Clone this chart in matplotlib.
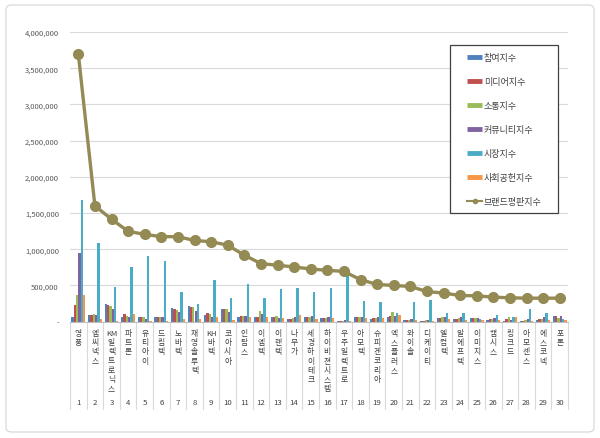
import matplotlib
matplotlib.use("Agg")
import matplotlib.pyplot as plt
from matplotlib.lines import Line2D
from matplotlib.patches import FancyBboxPatch, Rectangle
from matplotlib.ticker import FuncFormatter, MultipleLocator
import matplotlib.transforms as mtransforms
import numpy as np

plt.rcParams['font.family'] = ['Noto Sans CJK KR', 'DejaVu Sans']

# ---------------- data ----------------
names = ["영풍", "엠씨넥스", "KM일렉트로닉스", "파트론", "유티아이", "드림텍", "노바텍",
         "재영솔루텍", "KH바텍", "코아시아", "인탑스", "이엠텍", "이랜텍", "나무가",
         "세경하이테크", "하이비젼시스템", "우주일렉트로", "아모텍", "슈피겐코리아",
         "엑스플러스", "와이솔", "디케이티", "엘컴텍", "알에프텍", "이미지스", "캠시스",
         "링크드", "아모센스", "에스코넥", "포톤"]
ranks = list(range(1, 31))

participation = [70000, 93000, 245000, 60000, 60000, 60000, 190000, 222000, 97000, 176000,
                 70000, 60000, 60000, 37000, 60000, 50000, 14000, 60000, 37000, 60000,
                 28000, 14000, 50000, 37000, 50000, 23000, 14000, 14000, 28000, 83000]
media = [230000, 97000, 231000, 106000, 60000, 60000, 176000, 208000, 116000, 176000,
         83000, 60000, 70000, 37000, 60000, 46000, 14000, 60000, 46000, 83000,
         28000, 14000, 50000, 37000, 50000, 37000, 37000, 14000, 37000, 74000]
communication = [370000, 100000, 222000, 83000, 60000, 60000, 167000, 199000, 106000, 176000,
                 83000, 148000, 83000, 46000, 60000, 46000, 14000, 60000, 46000, 130000,
                 28000, 23000, 60000, 46000, 46000, 37000, 60000, 23000, 37000, 46000]
community = [945000, 93000, 176000, 60000, 37000, 60000, 130000, 153000, 70000, 130000,
             83000, 106000, 50000, 60000, 74000, 60000, 23000, 70000, 60000, 83000,
             37000, 28000, 60000, 60000, 50000, 46000, 23000, 37000, 60000, 74000]
market = [1680000, 1090000, 481000, 755000, 908000, 843000, 410000, 245000, 580000, 329000,
          514000, 324000, 458000, 467000, 407000, 463000, 640000, 292000, 269000, 116000,
          278000, 301000, 116000, 116000, 37000, 93000, 70000, 176000, 116000, 37000]
social = [370000, 37000, 14000, 106000, 14000, 14000, 37000, 37000, 70000, 23000,
          70000, 60000, 50000, 93000, 37000, 46000, 14000, 50000, 46000, 93000,
          23000, 14000, 37000, 28000, 23000, 28000, 60000, 14000, 23000, 28000]
brand = [3700000, 1600000, 1415000, 1248000, 1206000, 1174000, 1174000, 1122000, 1104000, 1057000,
         918000, 803000, 779000, 756000, 728000, 709000, 695000, 580000, 515000, 500000,
         487000, 417000, 395000, 362000, 357000, 339000, 330000, 325000, 325000, 325000]

series_labels = ['참여지수', '미디어지수', '소통지수', '커뮤니티지수', '시장지수', '사회공헌지수']
line_label = '브랜드평판지수'
series = [participation, media, communication, community, market, social]

colors = ['#4F81BD', '#C0504D', '#9BBB59', '#8064A2', '#4BACC6', '#F79646']
line_color = '#948A54'
text_color = '#404040'

# ---------------- figure ----------------
W, H = 600, 439
fig = plt.figure(figsize=(W / 100, H / 100), dpi=100)
fig.patch.set_facecolor('white')


def fx(px):
    return px / W


def fy(py):
    return 1 - py / H


left, right, top, bottom = 70, 568, 33, 322.7
ax = fig.add_axes([fx(left), fy(bottom), (right - left) / W, (bottom - top) / H])

x = np.arange(1, 31)
group = 0.84
bw = group / 6
for k, (vals, c, lab) in enumerate(zip(series, colors, series_labels)):
    ax.bar(x + (k - 2.5) * bw, vals, width=bw, color=c, label=lab, zorder=2, linewidth=0)

ax.plot(x, brand, color=line_color, lw=2.4, marker='o', ms=7, zorder=3, label=line_label)

ax.set_xlim(0.5, 30.5)
ax.set_ylim(0, 4000000)
ax.yaxis.set_major_locator(MultipleLocator(500000))
ax.yaxis.set_major_formatter(FuncFormatter(lambda v, _: '-' if v == 0 else f'{int(v):,}'))
ax.tick_params(axis='y', length=0, labelsize=5.5, labelcolor='#595959', pad=8)
ax.set_xticks([])
ax.grid(axis='y', color='#D9D9D9', lw=0.8, zorder=0)
for s in ['top', 'right', 'left']:
    ax.spines[s].set_visible(False)
ax.spines['bottom'].set_color('#BFBFBF')
ax.spines['bottom'].set_linewidth(0.8)

# category axis (two-level)
trans = mtransforms.blended_transform_factory(ax.transData, fig.transFigure)
for b in np.arange(0.5, 31, 1):
    ax.add_line(Line2D([b, b], [fy(bottom), fy(410)], transform=trans, clip_on=False,
                       color='#D9D9D9', lw=0.8))


def stack(name):
    parts = []
    latin = ''
    for ch in name:
        if ch.isascii():
            latin += ch
        else:
            if latin:
                parts.append(latin)
                latin = ''
            parts.append(ch)
    if latin:
        parts.append(latin)
    return '\n'.join(parts)


for xi, n, r in zip(x, names, ranks):
    ax.text(xi, fy(330), stack(n), transform=trans, ha='center', va='top',
            fontsize=5.6, linespacing=1.2, color=text_color, clip_on=False)
    ax.text(xi, fy(403), str(r), transform=trans, ha='center', va='center',
            fontsize=5.6, color=text_color, clip_on=False)

# legend (drawn in figure pixel positions)
fig.patches.append(Rectangle((fx(450), fy(214)), fx(108), (214 - 46) / H,
                             transform=fig.transFigure, fill=True, facecolor='white',
                             edgecolor='#404040', lw=0.9, zorder=5))
labels = series_labels + [line_label]
for i, lab in enumerate(labels):
    yy = fy(58.3 + 24 * i)
    if i < 6:
        fig.add_artist(Line2D([fx(467), fx(482)], [yy, yy], color=colors[i], lw=3.5,
                              solid_capstyle='butt', transform=fig.transFigure, zorder=6))
    else:
        fig.add_artist(Line2D([fx(467), fx(482)], [yy, yy], color=line_color, lw=1.5,
                              transform=fig.transFigure, zorder=6))
        fig.add_artist(Line2D([fx(474.5)], [yy], color=line_color, marker='o', ms=3,
                              transform=fig.transFigure, zorder=6))
    fig.text(fx(484), yy, lab, ha='left', va='center', fontsize=6.5, color=text_color, zorder=6)

# outer chart border
border = FancyBboxPatch((fx(6), fy(433)), fx(588), (433 - 6) / H,
                        boxstyle='round,pad=0,rounding_size=0.01',
                        transform=fig.transFigure, fill=False, edgecolor='#D9D9D9', lw=0.9)
fig.patches.append(border)

fig.savefig('out.png', dpi=100)
